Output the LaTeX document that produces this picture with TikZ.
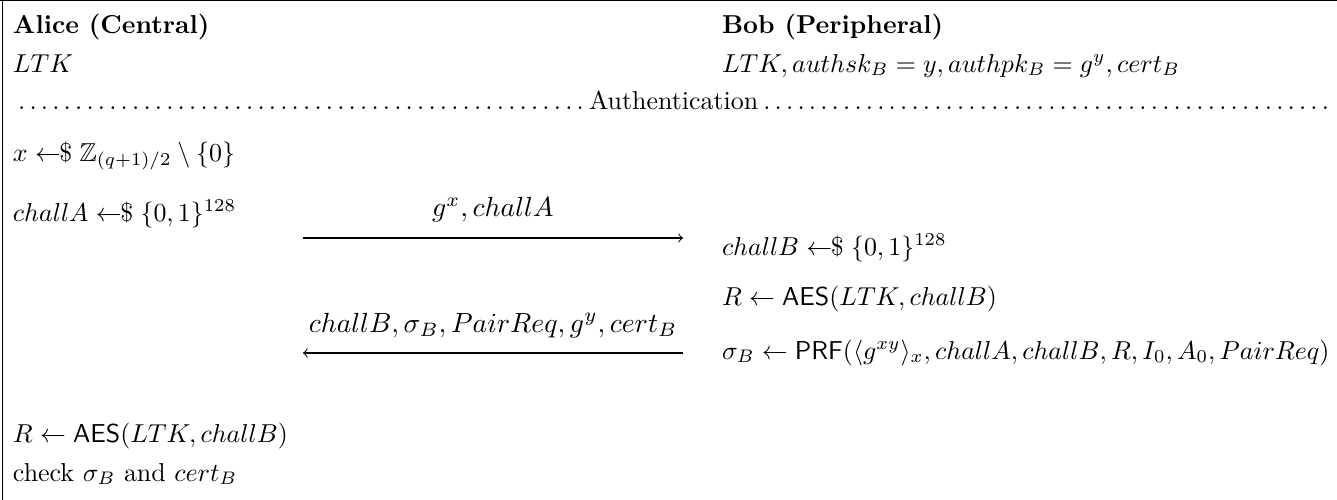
\documentclass[tikz,border=0pt]{standalone}
\usepackage{amsmath,amssymb}
% uniform sampling arrow
\newcommand{\rsample}{\mathrel{\leftarrow\!\!\$}}
\begin{document}
\begin{tikzpicture}[x=0.386pt,y=-0.386pt,
  txt/.style={anchor=base west,inner sep=0pt,outer sep=0pt},
  lbl/.style={anchor=base,inner sep=0pt,outer sep=0pt},
  msg/.style={->,line width=0.4pt}]
\useasboundingbox (0,0) rectangle (1337,500);
% frame edges
\draw[line width=0.5pt] (0,0) -- (1337,0);
\draw[line width=0.6pt] (2.5,0) -- (2.5,500);
% parties and their keys
\node[txt] (ah) at (13,34) {\textbf{Alice (Central)}};
\node[txt] (bh) at (722,34) {\textbf{Bob (Peripheral)}};
\node[txt] (ak) at (13,72) {$LTK$};
\node[txt] (bk) at (722,72) {$LTK, authsk_B = y, authpk_B = g^y, cert_B$};
% phase separator
\node[txt] (auth) at (13,109) {\makebox[510pt]{\dotfill Authentication\dotfill}};
% Alice, first steps
\node[txt] (ax) at (13,161) {$x \rsample \mathbb{Z}_{(q+1)/2} \setminus \{0\}$};
\node[txt] (aca) at (13,221) {$challA \rsample \{0,1\}^{128}$};
% Bob
\node[txt] (bcb) at (722,255) {$challB \rsample \{0,1\}^{128}$};
\node[txt] (br) at (722,305) {$R \leftarrow \mathsf{AES}(LTK, challB)$};
\node[txt] (bs) at (722,359) {$\sigma_B \leftarrow \mathsf{PRF}(\langle g^{xy}\rangle_x, challA, challB, R, I_0, A_0, PairReq)$};
% Alice, verification
\node[txt] (ar) at (13,442) {$R \leftarrow \mathsf{AES}(LTK, challB)$};
\node[txt] (ac) at (13,481) {check $\sigma_B$ and $cert_B$};
% messages
\coordinate (m1a) at (303,238);
\coordinate (m1b) at (683,238);
\coordinate (m2a) at (683,353);
\coordinate (m2b) at (303,353);
\draw[msg] (m1a) -- (m1b);
\draw[msg] (m2a) -- (m2b);
\node[lbl] (l1) at (493,217) {\scalebox{1.07}{$g^x, challA$}};
\node[lbl] (l2) at (493,332) {\scalebox{1.07}{$challB, \sigma_B, PairReq, g^y, cert_B$}};
\end{tikzpicture}
\end{document}
